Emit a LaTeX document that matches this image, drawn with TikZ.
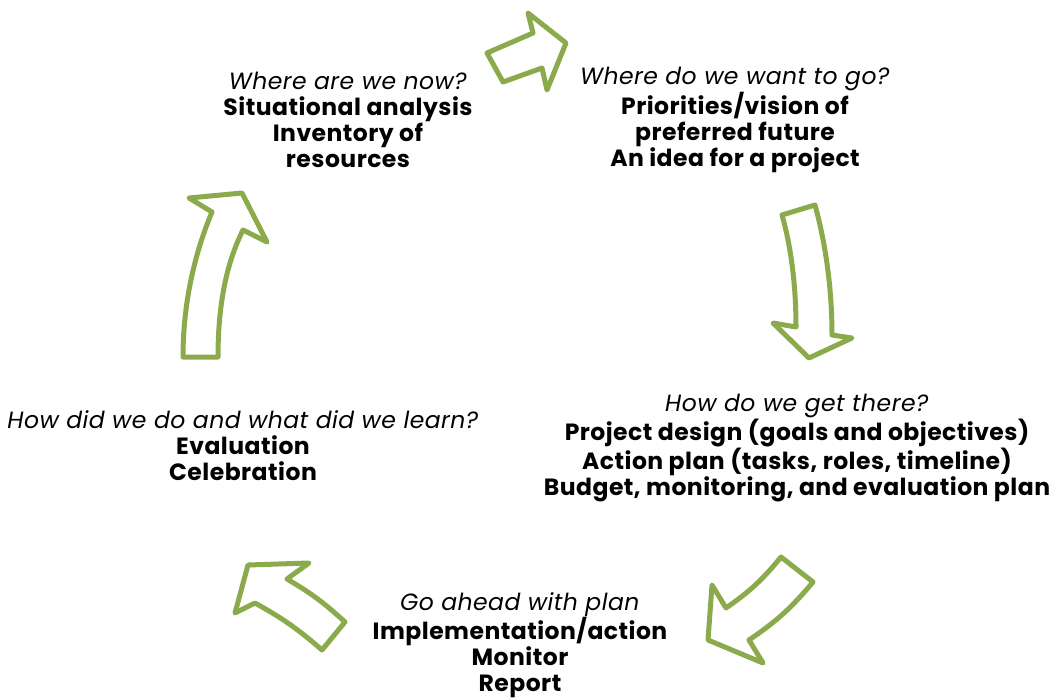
\documentclass[tikz,border=0pt]{standalone}
\usepackage{fontspec}
\setmainfont{Poppins}[LetterSpace=2]

\definecolor{leaf}{HTML}{8BAA4B}
\newcommand*{\ask}[1]{\textit{\fontseries{m}\selectfont #1}}

\begin{document}
\begin{tikzpicture}
[
	x=1pt,
	y=-1pt,
	stage/.style={align=center,inner sep=0pt,font=\fontsize{23.5}{26}\selectfont\bfseries},
	bigarrow/.style={draw=leaf,line width=5pt,line join=round,fill=white}
]

	\useasboundingbox (0,0) rectangle (1055,698);

	% block arrows
	\draw[bigarrow] (487,53) -- (533,33) -- (528,13) -- (566,43) -- (547,90) -- (542,68) -- (503,82) -- cycle;
	\draw[bigarrow] (782,215) -- (815,205) .. controls (826,245) and (832,290) .. (832,335)
	  -- (852,338) -- (809,358) -- (773,323) -- (796,327)
	  .. controls (796,290) and (792,250) .. cycle;
	\draw[bigarrow] (781,557) -- (813,582) to[bend left=8] (749,640) -- (763,663) -- (708,640)
	  -- (712,585) -- (726,608) to[bend right=8] cycle;
	\draw[bigarrow] (248,565) -- (309,563) -- (287,579) to[bend left=6] (345,622) -- (322,650)
	  to[bend right=6] (255,603) -- (235,613) -- cycle;
	\draw[bigarrow] (183,357) -- (218,357) .. controls (218,300) and (228,260) .. (243,230)
	  -- (267,242) -- (242,193) -- (189,198) -- (212,212)
	  .. controls (196,250) and (183,300) .. cycle;

	% stages
	\node[stage] (now) at (348,120) {\ask{Where are we now?}\\Situational analysis\\Inventory of\\resources};
	\node[stage] (want) at (735,120) {\ask{Where do we want to go?}\\Priorities/vision of\\preferred future\\An idea for a project};
	\node[stage] (get) at (797,448) {\ask{How do we get there?}\\Project design (goals and objectives)\\Action plan (tasks, roles, timeline)\\Budget, monitoring, and evaluation plan};
	\node[stage] (go) at (520,645) {\ask{Go ahead with plan}\\Implementation/action\\Monitor\\Report};
	\node[stage] (learn) at (243,446) {\ask{How did we do and what did we learn?}\\Evaluation\\Celebration};

\end{tikzpicture}
\end{document}
